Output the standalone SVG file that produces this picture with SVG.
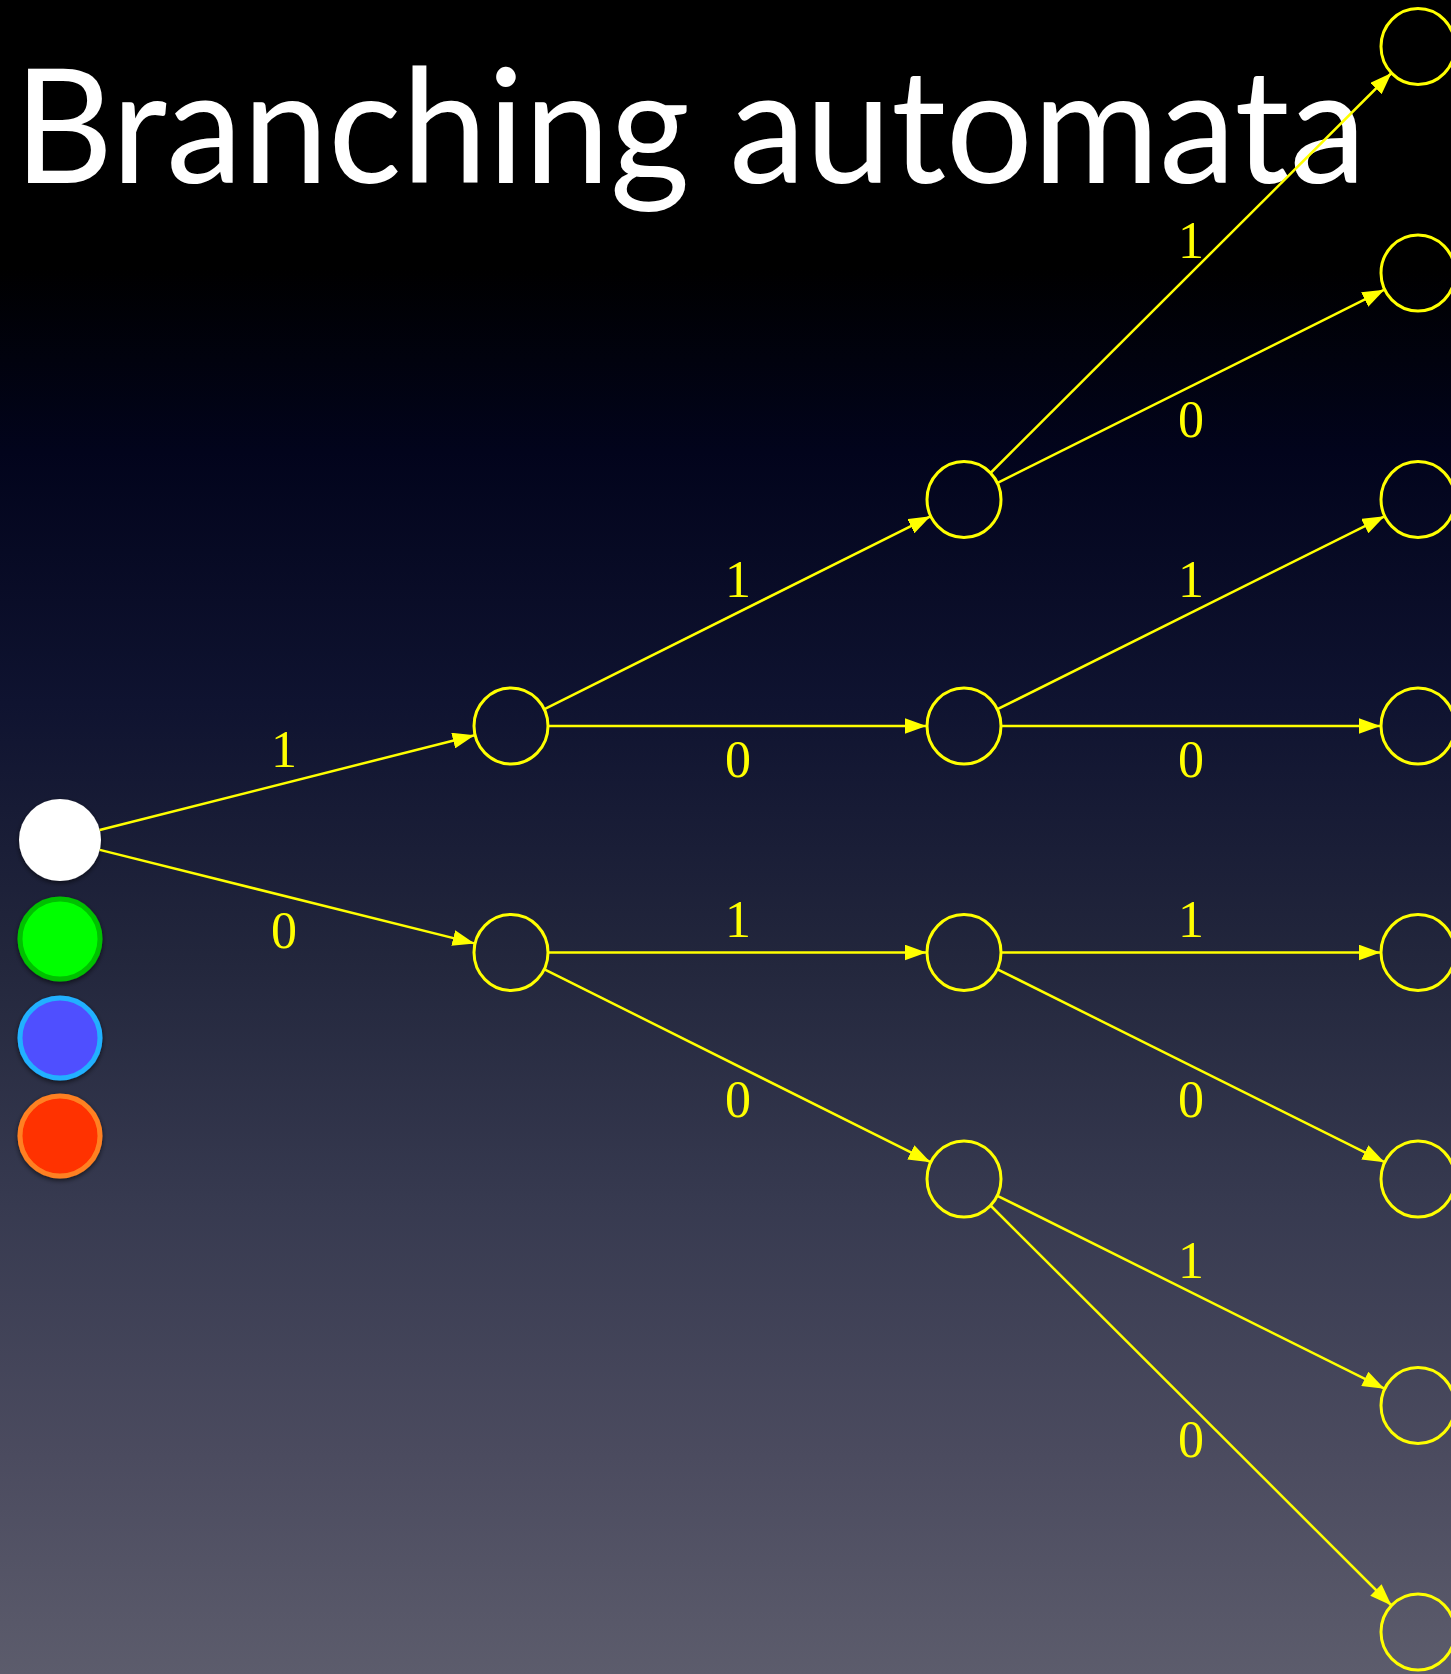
<svg xmlns="http://www.w3.org/2000/svg" width="1451" height="1674" viewBox="0 0 1451 1674">
  <defs>
    <linearGradient id="bg" x1="0" y1="0" x2="0" y2="1">
      <stop offset="0" stop-color="#000000"/>
      <stop offset="0.16" stop-color="#000000"/>
      <stop offset="0.27" stop-color="#02041c"/>
      <stop offset="0.42" stop-color="#0f1330"/>
      <stop offset="0.57" stop-color="#22263c"/>
      <stop offset="0.72" stop-color="#373a50"/>
      <stop offset="0.87" stop-color="#4b4b5f"/>
      <stop offset="1" stop-color="#5c5c6c"/>
    </linearGradient>
    <marker id="arrow" markerUnits="userSpaceOnUse" markerWidth="22" markerHeight="16" refX="22" refY="8" orient="auto">
      <path d="M0,0 L22,8 L0,16 z" fill="#ffff00"/>
    </marker>
    <filter id="shadow" x="-30%" y="-30%" width="160%" height="160%">
      <feDropShadow dx="0" dy="2" stdDeviation="2.5" flood-color="#000000" flood-opacity="0.6"/>
    </filter>
    <style>
      .title { font-family: Lato, "Open Sans", "Liberation Sans", sans-serif; font-size: 160px; fill: #ffffff; }
      .state { fill: none; stroke: #ffff00; stroke-width: 3; }
      .edge { fill: none; stroke: #ffff00; stroke-width: 2.5; marker-end: url(#arrow); }
      .lbl { font-family: "Liberation Serif", "DejaVu Serif", serif; font-size: 52px; fill: #ffff00; text-anchor: middle; }
    </style>
  </defs>

  <rect x="0" y="0" width="1451" height="1674" fill="url(#bg)"/>

  <text class="title" x="14" y="183" textLength="1352" lengthAdjust="spacingAndGlyphs">Branching automata</text>

  <!-- colour legend / start state -->
  <g id="root" filter="url(#shadow)">
    <circle cx="60" cy="840" r="41" fill="#ffffff"/>
  </g>
  <g id="green" filter="url(#shadow)">
    <circle cx="60" cy="939" r="40" fill="#00ff00" stroke="#00c000" stroke-width="5"/>
  </g>
  <g id="blue" filter="url(#shadow)">
    <circle cx="60" cy="1038" r="40" fill="#5050ff" stroke="#20b0ff" stroke-width="5"/>
  </g>
  <g id="red" filter="url(#shadow)">
    <circle cx="60" cy="1136" r="40" fill="#ff3000" stroke="#ff8020" stroke-width="5"/>
  </g>

  <!-- level 1 -->
  <g id="n1"><ellipse class="state" cx="511" cy="726" rx="37" ry="38"/></g>
  <g id="n0"><ellipse class="state" cx="511" cy="952.5" rx="37" ry="38"/></g>
  <!-- level 2 -->
  <g id="n11"><ellipse class="state" cx="964" cy="499.5" rx="37" ry="38"/></g>
  <g id="n10"><ellipse class="state" cx="964" cy="726" rx="37" ry="38"/></g>
  <g id="n01"><ellipse class="state" cx="964" cy="952.5" rx="37" ry="38"/></g>
  <g id="n00"><ellipse class="state" cx="964" cy="1179" rx="37" ry="38"/></g>
  <!-- level 3 -->
  <g id="n111"><ellipse class="state" cx="1418" cy="46.5" rx="37" ry="38"/></g>
  <g id="n110"><ellipse class="state" cx="1418" cy="273" rx="37" ry="38"/></g>
  <g id="n101"><ellipse class="state" cx="1418" cy="499.5" rx="37" ry="38"/></g>
  <g id="n100"><ellipse class="state" cx="1418" cy="726" rx="37" ry="38"/></g>
  <g id="n011"><ellipse class="state" cx="1418" cy="952.5" rx="37" ry="38"/></g>
  <g id="n010"><ellipse class="state" cx="1418" cy="1179" rx="37" ry="38"/></g>
  <g id="n001"><ellipse class="state" cx="1418" cy="1405.5" rx="37" ry="38"/></g>
  <g id="n000"><ellipse class="state" cx="1418" cy="1632" rx="37" ry="38"/></g>

  <g id="edges">
    <line class="edge" x1="99.7" y1="830" x2="474.6" y2="735.2"/>
    <line class="edge" x1="99.8" y1="849.9" x2="474.6" y2="943.4"/>

    <line class="edge" x1="544.5" y1="709.2" x2="930.5" y2="516.3"/>
    <line class="edge" x1="548.5" y1="726" x2="926.5" y2="726"/>
    <line class="edge" x1="548.5" y1="952.5" x2="926.5" y2="952.5"/>
    <line class="edge" x1="544.5" y1="969.3" x2="930.5" y2="1162.2"/>

    <line class="edge" x1="990.5" y1="473" x2="1391.5" y2="73"/>
    <line class="edge" x1="997.6" y1="482.8" x2="1384.4" y2="289.7"/>
    <line class="edge" x1="997.5" y1="709.2" x2="1384.5" y2="516.3"/>
    <line class="edge" x1="1001.5" y1="726" x2="1380.5" y2="726"/>
    <line class="edge" x1="1001.5" y1="952.5" x2="1380.5" y2="952.5"/>
    <line class="edge" x1="997.5" y1="969.3" x2="1384.5" y2="1162.2"/>
    <line class="edge" x1="997.5" y1="1195.8" x2="1384.5" y2="1388.7"/>
    <line class="edge" x1="990.5" y1="1205.5" x2="1391.5" y2="1605.5"/>

    <text class="lbl" x="284" y="767">1</text>
    <text class="lbl" x="284" y="948">0</text>

    <text class="lbl" x="738" y="597">1</text>
    <text class="lbl" x="738" y="777">0</text>
    <text class="lbl" x="738" y="937">1</text>
    <text class="lbl" x="738" y="1117">0</text>

    <text class="lbl" x="1191" y="258">1</text>
    <text class="lbl" x="1191" y="437">0</text>
    <text class="lbl" x="1191" y="597">1</text>
    <text class="lbl" x="1191" y="777">0</text>
    <text class="lbl" x="1191" y="937">1</text>
    <text class="lbl" x="1191" y="1117">0</text>
    <text class="lbl" x="1191" y="1278">1</text>
    <text class="lbl" x="1191" y="1457">0</text>
  </g>
</svg>
